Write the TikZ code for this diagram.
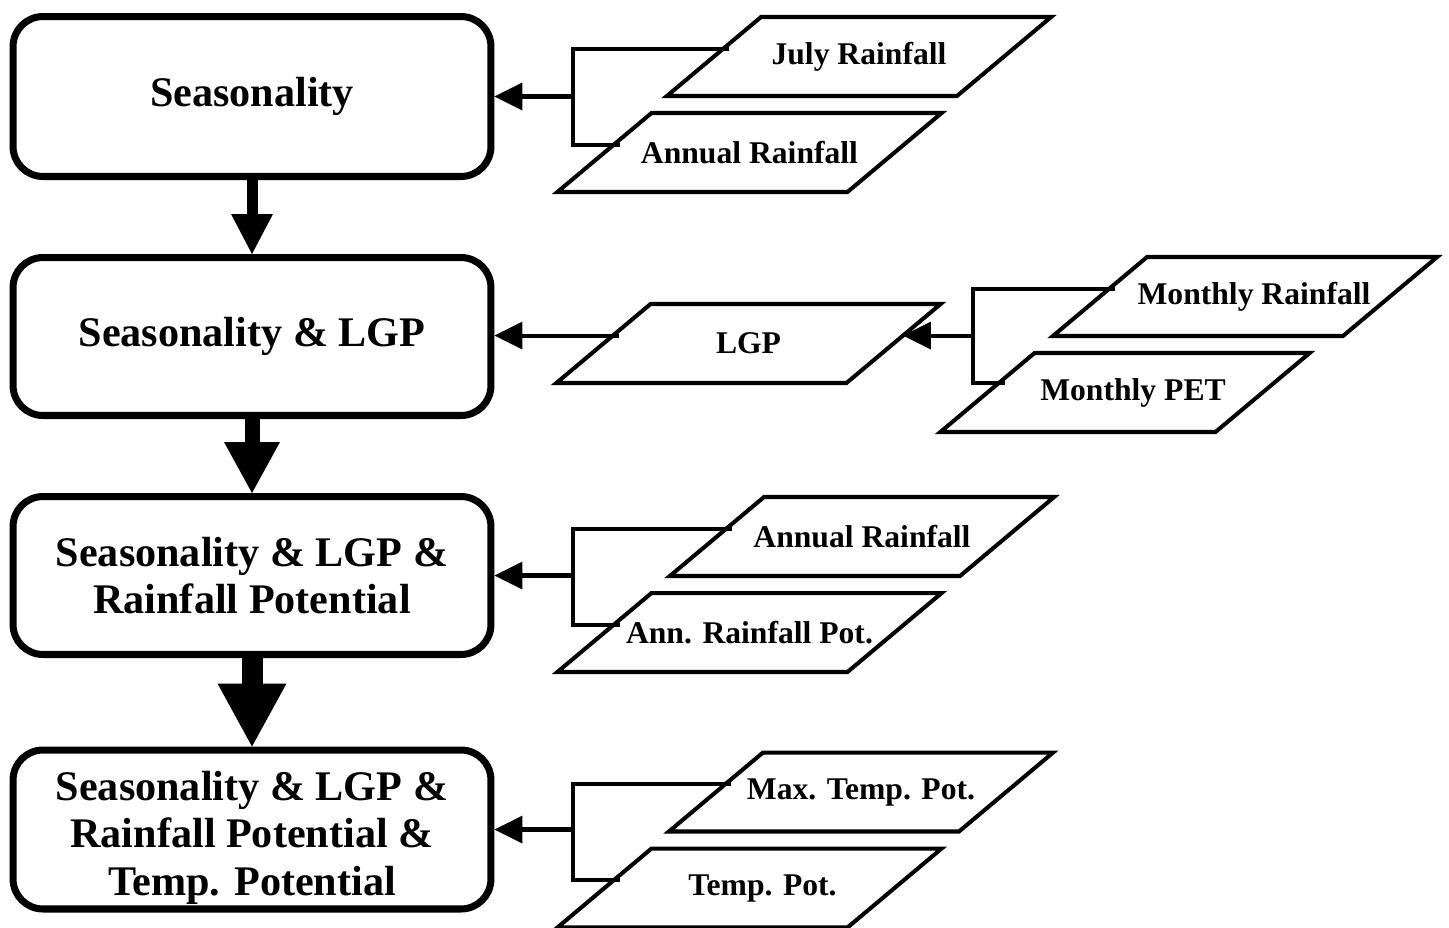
\documentclass[tikz,border=0pt]{standalone}
\usepackage{fontspec}
\setmainfont{Liberation Serif}
\usetikzlibrary{shapes.geometric,arrows.meta,calc}

\begin{document}
\begin{tikzpicture}[x=0.02cm,y=-0.02cm,every node/.style={outer sep=0pt},
 stage/.style={draw,line width=4pt,rounded corners=0.6cm,outer sep=2pt,
 minimum width=9.56cm,minimum height=3.16cm,inner sep=1pt,align=center,
 font=\fontsize{24}{27}\selectfont\bfseries},
 data/.style={draw,line width=2.3pt,trapezium,trapezium left angle=40,
 trapezium right angle=140,inner xsep=1.96cm,inner ysep=0.79cm},
 dtext/.style={font=\fontsize{18}{20}\selectfont\bfseries},
 link/.style={line width=2.3pt,shorten <=-0.12cm,shorten >=-0.12cm},
 feed/.style={line width=2.3pt,-{Triangle[length=0.56cm,width=0.56cm,line width=0pt]}},
 flow/.style n args={3}{line width=#1,-{Triangle[width=#2,length=#3,line width=0pt]}}]

\useasboundingbox (0,0) rectangle (1449,927);

% stages
\node[stage,minimum height=3.2cm] (b1) at (252,96.5) {Seasonality};
\node[stage] (b2) at (252,336.5) {Seasonality \& LGP};
\node[stage] (b3) at (252,575.5) {Seasonality \& LGP \&\\Rainfall Potential};
\node[stage,minimum height=3.18cm] (b4) at (252,829.5) {\rule{0pt}{26pt}Seasonality \& LGP \&\\Rainfall Potential \&\\Temp. Potential};

\draw[flow={0.22cm}{0.84cm}{0.8cm}] (b1.south) -- (b2.north);
\draw[flow={0.3cm}{1.12cm}{1.02cm}] (b2.south) -- (b3.north);
\draw[flow={0.42cm}{1.38cm}{1.26cm}] (b3.south) -- (b4.north);

% inputs
\node[data,label={[dtext]center:July Rainfall}] (jul) at (859,56.5) {};
\node[data,label={[dtext]center:Annual Rainfall}] (ann1) at (749.5,152.5) {};

\node[data,label={[dtext]center:LGP}] (lgp) at (748.5,343.5) {};
\node[data,label={[dtext,xshift=0.18cm]center:Monthly Rainfall}] (mrain) at (1245,296.5) {};
\node[data,inner xsep=1.81cm,label={[dtext,xshift=0.16cm]center:Monthly PET}] (mpet) at (1125,392.5) {};

\node[data,label={[dtext]center:Annual Rainfall}] (ann2) at (862,536.5) {};
\node[data,label={[dtext]center:Ann. Rainfall Pot.}] (arpot) at (749.5,632.5) {};

\node[data,label={[dtext]center:Max. Temp. Pot.}] (mtpot) at (861,792) {};
\node[data,label={[dtext,xshift=0.26cm]center:Temp. Pot.}] (tpot) at (749.5,888) {};

% connectors
\coordinate (jul-in) at ($(jul.bottom left corner)!0.6!(jul.top left corner)$);
\coordinate (ann1-in) at ($(ann1.bottom left corner)!0.6!(ann1.top left corner)$);
\coordinate (lgp-in) at ($(lgp.bottom right corner)!0.6!(lgp.top right corner)$);
\coordinate (lgp-out) at ($(lgp.bottom left corner)!0.6!(lgp.top left corner)$);
\coordinate (mrain-in) at ($(mrain.bottom left corner)!0.6!(mrain.top left corner)$);
\coordinate (mpet-in) at ($(mpet.bottom left corner)!0.62!(mpet.top left corner)$);
\coordinate (ann2-in) at ($(ann2.bottom left corner)!0.6!(ann2.top left corner)$);
\coordinate (arpot-in) at ($(arpot.bottom left corner)!0.6!(arpot.top left corner)$);
\coordinate (mtpot-in) at ($(mtpot.bottom left corner)!0.6!(mtpot.top left corner)$);
\coordinate (tpot-in) at ($(tpot.bottom left corner)!0.6!(tpot.top left corner)$);

\coordinate (j1) at (573,0);
\coordinate (j2) at (973,0);

\draw[link] (jul-in) -| (j1 |- ann1-in) -- (ann1-in);
\draw[feed] (j1 |- b1.east) -- (b1.east);

\draw[feed,shorten <=-0.12cm] (lgp-out) -- (lgp-out -| b2.east);
\draw[link] (mrain-in) -| (j2 |- mpet-in) -- (mpet-in);
\draw[feed] (j2 |- lgp-in) -- (lgp-in);

\draw[link] (ann2-in) -| (j1 |- arpot-in) -- (arpot-in);
\draw[feed] (j1 |- b3.east) -- (b3.east);

\draw[link] (mtpot-in) -| (j1 |- tpot-in) -- (tpot-in);
\draw[feed] (j1 |- b4.east) -- (b4.east);

\end{tikzpicture}
\end{document}
